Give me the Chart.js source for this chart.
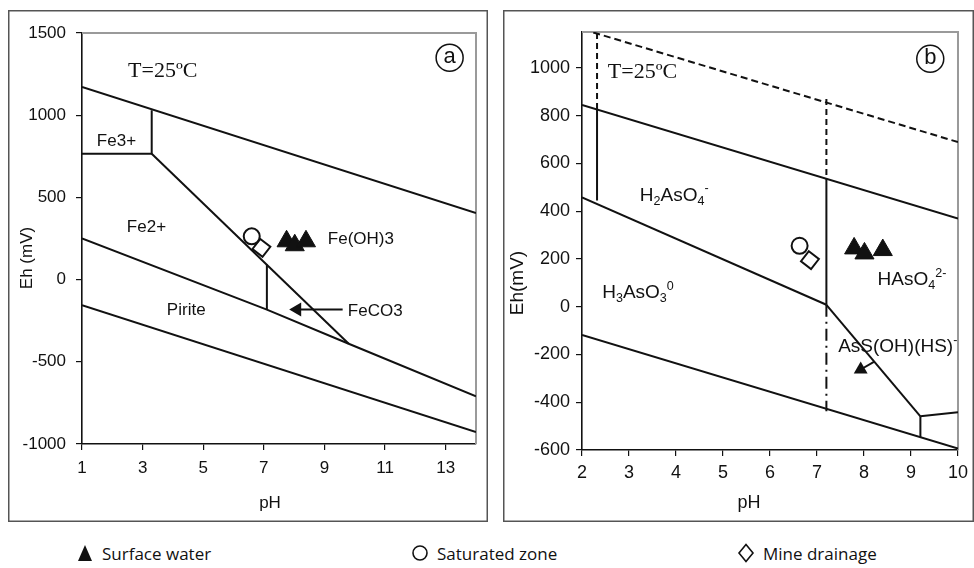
<!DOCTYPE html>
<html><head><meta charset="utf-8">
<script src="https://cdn.jsdelivr.net/npm/chart.js@4.4.0/dist/chart.umd.min.js"></script>
<style>
html,body{margin:0;padding:0;background:#fff;width:974px;height:568px;overflow:hidden;position:relative}
canvas{position:absolute;top:10px}
#ca{left:8px}
#cb{left:503px}
.lg{position:absolute;top:541px;height:24px;font-family:"Open Sans",sans-serif;font-size:17px;color:#111;display:flex;align-items:center;white-space:nowrap}
.lg svg{margin-right:8px}
</style></head><body>
<canvas id="ca" width="480" height="512"></canvas>
<canvas id="cb" width="471" height="512"></canvas>
<div class="lg" style="left:76px"><svg width="18" height="18" viewBox="0 0 18 18"><polygon points="9,1 16,17 2,17" fill="#111"/></svg>Surface water</div>
<div class="lg" style="left:411px"><svg width="18" height="18" viewBox="0 0 18 18"><circle cx="9" cy="9" r="7" fill="#fff" stroke="#111" stroke-width="1.6"/></svg>Saturated zone</div>
<div class="lg" style="left:737px"><svg width="18" height="20" viewBox="0 0 18 20"><polygon points="9,1.5 16,10 9,18.5 2,10" fill="#fff" stroke="#111" stroke-width="1.6"/></svg>Mine drainage</div>
<script>
// ---------- Panel (a): Fe system ----------
const A_X_TICKS = [1, 3, 5, 7, 9, 11, 13];
const A_Y_TICKS = [-1000, -500, 0, 500, 1000, 1500];
const A_O2_PH = [1, 14];            const A_O2_EH = [1172, 405];
const A_FE3_PH = [1, 3.3, 3.3];     const A_FE3_EH = [766, 766, 1030];
const A_FEOH_PH = [3.3, 9.8];       const A_FEOH_EH = [766, -390];
const A_PYR_PH = [1, 7.1, 9.8, 14]; const A_PYR_EH = [250, -183, -390, -710];
const A_CO3_PH = [7.1, 7.1];        const A_CO3_EH = [-183, 92];
const A_H2_PH = [1, 14];            const A_H2_EH = [-156, -927];
const A_ARROW_PH = [9.6, 8.1];      const A_ARROW_EH = [-182, -182];
const A_SURF_PH = [7.75, 8.02, 8.39]; const A_SURF_EH = [233, 209, 233];
const A_SAT_PH = [6.6];             const A_SAT_EH = [263];
const A_MINE_PH = [6.92];           const A_MINE_EH = [193];

// ---------- Panel (b): As system ----------
const B_X_TICKS = [2, 3, 4, 5, 6, 7, 8, 9, 10];
const B_Y_TICKS = [-600, -400, -200, 0, 200, 400, 600, 800, 1000];
const B_O2_PH = [2.24, 10];         const B_O2_EH = [1148, 689];
const B_V23D_PH = [2.32, 2.32];     const B_V23D_EH = [1146, 828];
const B_V23S_PH = [2.32, 2.32];     const B_V23S_EH = [828, 445];
const B_UP_PH = [2, 10];            const B_UP_EH = [845, 369];
const B_LOW_PH = [2, 7.2];          const B_LOW_EH = [457, 8];
const B_V72D_PH = [7.2, 7.2];       const B_V72D_EH = [870, 536];
const B_V72S_PH = [7.2, 7.2];       const B_V72S_EH = [536, 8];
const B_V72DD_PH = [7.2, 7.2];      const B_V72DD_EH = [8, -438];
const B_H2_PH = [2, 10];            const B_H2_EH = [-118, -594];
const B_DIAG_PH = [7.2, 9.2];       const B_DIAG_EH = [8, -459];
const B_V92_PH = [9.2, 9.2];        const B_V92_EH = [-459, -546];
const B_SH_PH = [9.2, 10];          const B_SH_EH = [-459, -442];
const B_ARROW_PH = [8.22, 7.93];    const B_ARROW_EH = [-230, -263];
const B_SURF_PH = [7.79, 8.01, 8.40]; const B_SURF_EH = [244, 223, 237];
const B_SAT_PH = [6.63];            const B_SAT_EH = [255];
const B_MINE_PH = [6.85];           const B_MINE_EH = [195];

const pts = (xs, ys) => xs.map((x, i) => ({x: x, y: ys[i]}));
const line = (xs, ys, dash) => ({data: pts(xs, ys), showLine: true, borderColor: '#111', borderWidth: 2,
  borderDash: dash || [], pointRadius: 0, fill: false});
const arrow = (xs, ys, rot) => ({data: pts(xs, ys), showLine: true, borderColor: '#111', borderWidth: 2,
  pointRadius: [0, 8], pointStyle: 'triangle', rotation: rot, backgroundColor: '#111', pointBorderWidth: 0});
const markers = (surfX, surfY, satX, satY, mineX, mineY) => [
  {data: pts(surfX, surfY), pointStyle: 'triangle', pointRadius: 11, backgroundColor: '#111', borderColor: '#111', borderWidth: 1, showLine: false},
  {data: pts(satX, satY), pointStyle: 'circle', pointRadius: 8, backgroundColor: '#fff', borderColor: '#111', borderWidth: 2, showLine: false},
  {data: pts(mineX, mineY), pointStyle: 'rect', rotation: 38, pointRadius: 9, backgroundColor: '#fff', borderColor: '#111', borderWidth: 2, showLine: false}
];

function drawRich(ctx, x, y, segs, size, family) {
  let cx = x;
  ctx.textBaseline = 'middle';
  ctx.textAlign = 'left';
  for (const s of segs) {
    const small = s.sub || s.sup;
    const fs = small ? size * 0.66 : size;
    ctx.font = fs + 'px ' + family;
    const dy = s.sub ? size * 0.3 : (s.sup ? -size * 0.35 : 0);
    ctx.fillText(s.t, cx, y + dy);
    cx += ctx.measureText(s.t).width;
  }
}

const annotPlugin = {
  id: 'annot',
  beforeDatasetsDraw(chart) {
    const ctx = chart.ctx, ca = chart.chartArea;
    ctx.save();
    ctx.strokeStyle = '#9a9a9a'; ctx.lineWidth = 2;
    ctx.beginPath(); ctx.moveTo(ca.left, ca.top); ctx.lineTo(ca.right, ca.top); ctx.lineTo(ca.right, ca.bottom); ctx.stroke();
    ctx.restore();
  },
  afterDraw(chart, args, o) {
    const ctx = chart.ctx, xs = chart.scales.x, ys = chart.scales.y;
    ctx.save();
    ctx.fillStyle = '#111'; ctx.strokeStyle = '#111';
    for (const l of o.labels) {
      drawRich(ctx, xs.getPixelForValue(l.x), ys.getPixelForValue(l.y), l.segs, l.size, l.family || '"Liberation Sans", Arial, sans-serif');
    }
    const c = o.circled;
    const cx = xs.getPixelForValue(c.x), cy = ys.getPixelForValue(c.y);
    ctx.lineWidth = 1.5;
    ctx.beginPath(); ctx.arc(cx, cy, 13.5, 0, Math.PI * 2); ctx.stroke();
    ctx.font = '22px "Liberation Sans", Arial, sans-serif';
    ctx.textAlign = 'center'; ctx.textBaseline = 'middle';
    ctx.fillText(c.t, cx, cy - 1);
    for (const t of o.titles) {
      ctx.save();
      ctx.translate(t.px, t.py);
      if (t.rot) ctx.rotate(-Math.PI / 2);
      ctx.font = t.size + 'px "Liberation Sans", Arial, sans-serif';
      ctx.textAlign = 'center'; ctx.textBaseline = 'middle';
      ctx.fillText(t.t, 0, 0);
      ctx.restore();
    }
    ctx.strokeStyle = '#555'; ctx.lineWidth = 1.5;
    ctx.strokeRect(0.75, 0.75, chart.width - 1.5, chart.height - 1.5);
    ctx.restore();
  }
};

function scaleCfg(min, max, ticks, fs, pad, fit) {
  return {
    type: 'linear', min: min, max: max,
    afterBuildTicks: s => { s.ticks = ticks.map(v => ({value: v})); },
    afterFit: fit,
    grid: {drawOnChartArea: false, drawTicks: true, tickLength: 6, color: '#111', lineWidth: 1.2},
    border: {display: true, color: '#111', width: 1.6},
    ticks: {color: '#111', font: {family: '"Liberation Sans", Arial, sans-serif', size: fs}, padding: pad,
      maxRotation: 0, autoSkip: false, callback: v => String(v)}
  };
}

function makeChart(id, datasets, cfg) {
  return new Chart(document.getElementById(id), {
    type: 'scatter',
    data: {datasets: datasets},
    plugins: [annotPlugin],
    options: {
      responsive: false, animation: false, events: [],
      layout: {padding: {left: 0, top: cfg.padTop, right: cfg.padRight, bottom: 0}},
      plugins: {legend: {display: false}, tooltip: {enabled: false}, annot: cfg.annot},
      scales: {
        x: scaleCfg(cfg.xmin, cfg.xmax, cfg.xticks, cfg.fs, cfg.xpad, s => { s.height = cfg.xH; }),
        y: scaleCfg(cfg.ymin, cfg.ymax, cfg.yticks, cfg.fs, cfg.ypad, s => { s.width = cfg.yW; })
      }
    }
  });
}

const SERIF = '"Liberation Serif", "Times New Roman", serif';

makeChart('ca', [
  ...markers(A_SURF_PH, A_SURF_EH, A_SAT_PH, A_SAT_EH, A_MINE_PH, A_MINE_EH),
  arrow(A_ARROW_PH, A_ARROW_EH, -90),
  line(A_O2_PH, A_O2_EH), line(A_FE3_PH, A_FE3_EH), line(A_FEOH_PH, A_FEOH_EH),
  line(A_PYR_PH, A_PYR_EH), line(A_CO3_PH, A_CO3_EH), line(A_H2_PH, A_H2_EH)
], {
  padTop: 23, padRight: 12, xH: 78, yW: 74, fs: 17, xpad: 8, ypad: 10,
  xmin: 1, xmax: 14, xticks: A_X_TICKS, ymin: -1000, ymax: 1500, yticks: A_Y_TICKS,
  annot: {
    labels: [
      {x: 2.52, y: 1265, segs: [{t: 'T=25ºC'}], size: 22, family: SERIF},
      {x: 1.49, y: 839, segs: [{t: 'Fe3+'}], size: 17},
      {x: 2.48, y: 316, segs: [{t: 'Fe2+'}], size: 17},
      {x: 9.11, y: 243, segs: [{t: 'Fe(OH)3'}], size: 17},
      {x: 3.80, y: -189, segs: [{t: 'Pirite'}], size: 17},
      {x: 9.77, y: -195, segs: [{t: 'FeCO3'}], size: 17}
    ],
    circled: {x: 13.13, y: 1350, t: 'a'},
    titles: [
      {t: 'Eh (mV)', px: 19, py: 248, rot: true, size: 17},
      {t: 'pH', px: 262, py: 493, rot: false, size: 17}
    ]
  }
});

makeChart('cb', [
  ...markers(B_SURF_PH, B_SURF_EH, B_SAT_PH, B_SAT_EH, B_MINE_PH, B_MINE_EH),
  arrow(B_ARROW_PH, B_ARROW_EH, -120),
  line(B_O2_PH, B_O2_EH, [7, 4]), line(B_V23D_PH, B_V23D_EH, [6, 4]), line(B_V23S_PH, B_V23S_EH),
  line(B_UP_PH, B_UP_EH), line(B_LOW_PH, B_LOW_EH),
  line(B_V72D_PH, B_V72D_EH, [6, 4]), line(B_V72S_PH, B_V72S_EH), line(B_V72DD_PH, B_V72DD_EH, [12, 5, 2, 5]),
  line(B_H2_PH, B_H2_EH), line(B_DIAG_PH, B_DIAG_EH), line(B_V92_PH, B_V92_EH), line(B_SH_PH, B_SH_EH)
], {
  padTop: 22, padRight: 13, xH: 72, yW: 79, fs: 18, xpad: 6, ypad: 6,
  xmin: 2, xmax: 10, xticks: B_X_TICKS, ymin: -600, ymax: 1150, yticks: B_Y_TICKS,
  annot: {
    labels: [
      {x: 2.55, y: 980, segs: [{t: 'T=25ºC'}], size: 22, family: SERIF},
      {x: 3.23, y: 466, segs: [{t: 'H'}, {t: '2', sub: true}, {t: 'AsO'}, {t: '4', sub: true}, {t: '-', sup: true}], size: 19},
      {x: 2.43, y: 57, segs: [{t: 'H'}, {t: '3', sub: true}, {t: 'AsO'}, {t: '3', sub: true}, {t: '0', sup: true}], size: 19},
      {x: 8.29, y: 111, segs: [{t: 'HAsO'}, {t: '4', sub: true}, {t: '2-', sup: true}], size: 19},
      {x: 7.45, y: -168, segs: [{t: 'AsS(OH)(HS)'}, {t: '-', sup: true}], size: 19}
    ],
    circled: {x: 9.41, y: 1038, t: 'b'},
    titles: [
      {t: 'Eh(mV)', px: 15, py: 273, rot: true, size: 19},
      {t: 'pH', px: 246, py: 493, rot: false, size: 18}
    ]
  }
});
</script>
</body></html>
